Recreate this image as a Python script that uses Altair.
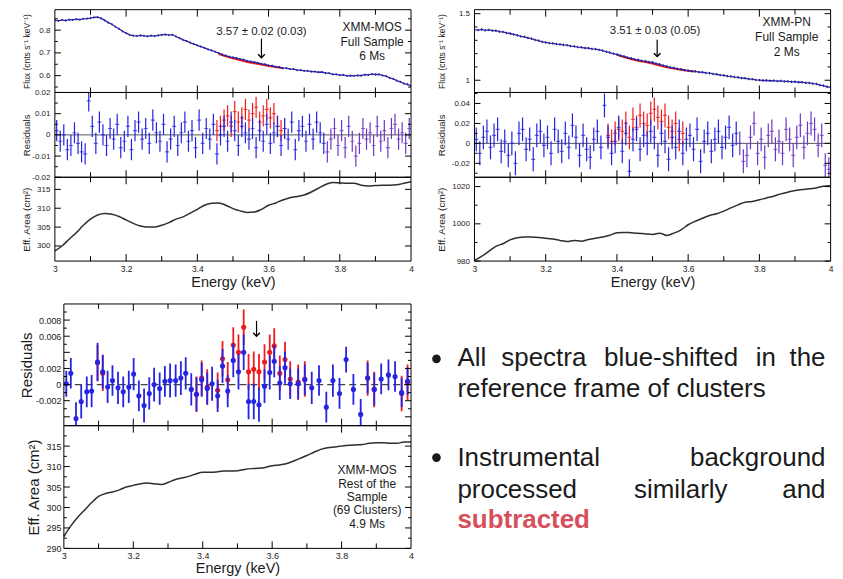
import altair as alt
import numpy as np
import pandas as pd

FONT = "Liberation Sans"
INK = "#1b1b1b"
BLUE = "#2424e2"
LINE_BLUE = "#2a22b8"
RED = "#f01a1a"
PURPLE = "#6d37c6"
TEXT_RED = "#d5505c"
MINUS = "\u2212"

# ---------------- data ----------------
E_FLUX = [round(3.0 + 0.01 * i, 2) for i in range(101)]   # flux bins (keV)
E_RES = [round(3.005 + 0.01 * i, 3) for i in range(100)]  # residual bins (keV)
E_EFF = [round(3.0 + 0.02 * i, 2) for i in range(51)]     # eff. area samples (keV)
X_TICKS_MAJOR = [3.2, 3.4, 3.6, 3.8]
X_TICKS_MINOR = [3.1, 3.3, 3.5, 3.7, 3.9]
X_LABELS = [3.0, 3.2, 3.4, 3.6, 3.8, 4.0]

MOS_FLUX = [
    0.843, 0.841, 0.845, 0.842, 0.846, 0.845, 0.848, 0.846, 0.850, 0.851,
    0.853, 0.856, 0.857, 0.852, 0.843, 0.833, 0.826, 0.815, 0.806, 0.795,
    0.787, 0.779, 0.776, 0.774, 0.777, 0.775, 0.773, 0.776, 0.774, 0.777,
    0.779, 0.781, 0.778, 0.780, 0.772, 0.765, 0.757, 0.752, 0.745, 0.739,
    0.733, 0.728, 0.722, 0.716, 0.711, 0.705, 0.699, 0.693, 0.688, 0.683,
    0.680, 0.677, 0.673, 0.670, 0.665, 0.662, 0.659, 0.656, 0.652, 0.650,
    0.645, 0.644, 0.639, 0.638, 0.633, 0.633, 0.629, 0.629, 0.624, 0.624,
    0.621, 0.621, 0.618, 0.618, 0.615, 0.616, 0.611, 0.611, 0.606, 0.606,
    0.602, 0.603, 0.599, 0.600, 0.599, 0.601, 0.600, 0.604, 0.603, 0.607,
    0.605, 0.606, 0.601, 0.598, 0.590, 0.586, 0.578, 0.573, 0.565, 0.562,
    0.556]
MOS_MODEL_E = [3.46, 3.48, 3.50, 3.52, 3.54, 3.56, 3.58, 3.60, 3.62, 3.64]
MOS_MODEL = [0.695, 0.685, 0.676, 0.668, 0.660, 0.654, 0.648, 0.642, 0.637, 0.632]
MOS_FLUX_ERR = 0.0045

PN_FLUX = [
    1.380, 1.377, 1.382, 1.375, 1.378, 1.373, 1.372, 1.365, 1.363, 1.355,
    1.351, 1.344, 1.338, 1.330, 1.326, 1.318, 1.312, 1.303, 1.297, 1.288,
    1.284, 1.279, 1.277, 1.272, 1.270, 1.265, 1.263, 1.257, 1.255, 1.249,
    1.247, 1.242, 1.241, 1.235, 1.234, 1.228, 1.223, 1.214, 1.208, 1.199,
    1.194, 1.185, 1.179, 1.170, 1.165, 1.156, 1.153, 1.146, 1.144, 1.137,
    1.134, 1.125, 1.120, 1.110, 1.105, 1.096, 1.093, 1.086, 1.083, 1.076,
    1.073, 1.068, 1.067, 1.061, 1.060, 1.055, 1.053, 1.047, 1.045, 1.039,
    1.037, 1.031, 1.029, 1.024, 1.022, 1.016, 1.015, 1.009, 1.008, 1.002,
    1.001, 0.998, 0.999, 0.996, 0.997, 0.994, 0.995, 0.991, 0.992, 0.988,
    0.989, 0.985, 0.985, 0.980, 0.980, 0.975, 0.972, 0.964, 0.959, 0.951,
    0.947]
PN_MODEL_E = [3.40, 3.42, 3.44, 3.46, 3.48, 3.50, 3.52, 3.54, 3.56, 3.58, 3.60, 3.62]
PN_MODEL = [1.190, 1.174, 1.159, 1.146, 1.136, 1.124, 1.110, 1.097, 1.087, 1.078, 1.070, 1.065]
PN_FLUX_ERR = 0.009

MOS_RES = [
    0.002, -0.003, 0.000, -0.007, -0.005, 0.001, -0.004, -0.008, -0.009, 0.016,
    0.004, -0.004, 0.006, 0.000, -0.005, 0.003, -0.002, 0.005, -0.006, -0.003,
    0.004, -0.007, 0.002, 0.006, -0.002, 0.003, -0.004, 0.007, 0.001, -0.003,
    0.005, -0.008, -0.002, 0.004, -0.005, 0.001, 0.006, -0.003, 0.002, -0.006,
    0.007, -0.004, 0.003, -0.002, 0.005, -0.009, 0.000, 0.004, -0.003, 0.006,
    0.002, -0.005, 0.004, 0.001, -0.002, 0.003, -0.006, 0.002, -0.003, 0.005,
    -0.004, 0.001, 0.004, -0.005, 0.003, -0.002, 0.006, -0.007, 0.002, 0.004,
    -0.003, 0.005, -0.002, 0.006, 0.001, -0.004, -0.008, -0.002, 0.003, -0.005,
    0.002, -0.006, 0.004, -0.003, -0.010, -0.004, 0.003, -0.002, 0.001, -0.005,
    0.004, -0.003, 0.002, -0.006, 0.003, 0.005, -0.002, 0.001, -0.004, 0.003]
MOS_RED_START = 45
MOS_RES_RED = [0.002, 0.004, 0.007, 0.009, 0.004, 0.011, 0.006, 0.008, 0.012, 0.007,
               0.010, 0.013, 0.006, 0.009, 0.012, 0.008, 0.010, 0.004, 0.002, 0.003]
MOS_RES_ERR = 0.005

PN_RES = [
    0.004, -0.010, 0.006, 0.012, -0.004, 0.008, 0.014, -0.008, 0.002, -0.012,
    0.000, -0.020, 0.010, 0.014, -0.006, 0.004, -0.016, 0.008, 0.012, -0.002,
    0.006, -0.010, 0.014, 0.002, -0.008, 0.010, -0.004, 0.018, 0.006, -0.012,
    0.008, -0.006, -0.014, 0.004, 0.012, -0.004, 0.038, 0.006, -0.010, 0.002,
    0.016, -0.008, 0.010, -0.028, 0.004, 0.014, -0.006, 0.008, 0.000, 0.012,
    0.006, -0.012, 0.010, 0.002, -0.016, 0.006, -0.004, 0.012, -0.010, 0.004,
    0.008, -0.006, 0.014, -0.018, 0.002, 0.010, -0.008, 0.004, 0.012, -0.004,
    0.006, 0.016, -0.002, 0.010, 0.000, -0.018, -0.012, 0.006, 0.020, -0.010,
    0.004, -0.014, 0.008, 0.012, -0.006, 0.002, -0.010, 0.014, 0.004, -0.012,
    0.006, 0.018, -0.004, 0.010, 0.020, 0.014, -0.002, 0.008, -0.022, -0.026]
PN_RED_START = 37
PN_RES_RED = [0.008, 0.002, 0.010, 0.014, 0.012, 0.020, 0.006, 0.024, 0.016, 0.028, 0.020,
              0.018, 0.030, 0.034, 0.026, 0.022, 0.028, 0.016, 0.012, 0.020, 0.004, 0.010]
PN_RES_ERR = 0.012

MOS_EFF = [298.7, 300.0, 301.8, 303.5, 305.5, 307.1, 308.2, 308.6, 308.4, 307.8,
           306.9, 306.0, 305.3, 305.0, 305.0, 305.5, 306.2, 307.1, 307.7, 308.7,
           309.7, 310.8, 311.3, 311.4, 310.8, 309.9, 309.3, 308.9, 309.0, 309.7,
           310.8, 311.4, 312.2, 312.8, 313.1, 313.5, 314.3, 315.3, 316.3, 316.8,
           316.7, 316.6, 316.6, 316.1, 315.9, 316.0, 316.1, 316.1, 316.2, 316.6, 317.0]
PN_EFF = [980.4, 982.5, 985.2, 987.9, 989.3, 991.4, 992.5, 992.9, 992.9, 992.7,
          992.3, 991.8, 991.1, 990.5, 991.1, 990.7, 991.6, 992.3, 992.9, 993.9,
          995.2, 995.4, 995.2, 995.0, 994.6, 994.3, 995.0, 993.8, 995.0, 996.8,
          999.5, 1001.4, 1003.0, 1004.5, 1005.4, 1006.8, 1008.6, 1010.2, 1011.6, 1012.0,
          1012.9, 1013.9, 1014.8, 1016.1, 1017.0, 1017.9, 1018.4, 1018.8, 1019.3, 1020.2, 1020.5]
REST_EFF = [292.9, 295.5, 297.6, 299.4, 301.2, 302.7, 303.4, 303.8, 304.3, 305.0,
            305.4, 305.8, 306.0, 305.8, 305.6, 306.1, 306.8, 307.2, 307.6, 308.2,
            308.6, 308.6, 308.7, 308.9, 308.9, 309.0, 309.3, 309.5, 309.6, 309.8,
            310.2, 310.4, 310.7, 311.3, 312.0, 312.7, 313.5, 314.2, 314.6, 314.8,
            315.0, 315.2, 315.3, 315.4, 315.7, 315.8, 315.8, 315.7, 315.7, 316.0, 316.0]

REST_E = [3.007, 3.020, 3.035, 3.050, 3.066, 3.080, 3.097, 3.112, 3.126, 3.140,
          3.156, 3.171, 3.187, 3.201, 3.216, 3.231, 3.246, 3.260, 3.276, 3.291,
          3.306, 3.322, 3.337, 3.351, 3.367, 3.382, 3.397, 3.413, 3.427, 3.443,
          3.457, 3.472, 3.488, 3.503, 3.518, 3.532, 3.547, 3.562, 3.578, 3.593,
          3.606, 3.622, 3.637, 3.652, 3.675, 3.694, 3.714, 3.735, 3.756, 3.775,
          3.794, 3.813, 3.834, 3.855, 3.875, 3.894, 3.914, 3.935, 3.954, 3.973, 3.990]
REST_RES = [0.0001, 0.0014, -0.0042, -0.0021, -0.0009, -0.0008, 0.0028, 0.0016, -0.0003, 0.0005,
            -0.0004, -0.0009, -0.0003, 0.0013, -0.0014, -0.0026, -0.0011, 0.0000, -0.0005, 0.0004,
            0.0005, 0.0005, 0.0008, 0.0014, -0.0006, -0.0012, 0.0006, -0.0005, 0.0001, -0.0014,
            0.0023, -0.0008, 0.0030, 0.0016, 0.0040, -0.0021, -0.0021, -0.0025, -0.0002, 0.0015,
            0.0029, 0.0002, 0.0021, 0.0001, 0.0001, 0.0006, -0.0004, 0.0005, -0.0028, 0.0005,
            -0.0011, 0.0031, -0.0006, -0.0037, 0.0008, -0.0006, 0.0007, 0.0012, 0.0010, -0.0010, 0.0004]
REST_ERR = [0.0016, 0.0019, 0.0020, 0.0021, 0.0019, 0.0020, 0.0024, 0.0021, 0.0020, 0.0019,
            0.0020, 0.0019, 0.0020, 0.0020, 0.0019, 0.0021, 0.0020, 0.0021, 0.0020, 0.0019,
            0.0021, 0.0020, 0.0021, 0.0020, 0.0020, 0.0021, 0.0021, 0.0020, 0.0021, 0.0020,
            0.0021, 0.0020, 0.0021, 0.0022, 0.0022, 0.0022, 0.0022, 0.0021, 0.0021, 0.0021,
            0.0020, 0.0021, 0.0020, 0.0019, 0.0019, 0.0019, 0.0020, 0.0019, 0.0019, 0.0020,
            0.0019, 0.0016, 0.0019, 0.0019, 0.0019, 0.0020, 0.0019, 0.0019, 0.0019, 0.0018, 0.0017]
REST_RED_E = [3.097, 3.112, 3.382, 3.397, 3.413, 3.443, 3.457, 3.472, 3.488, 3.503, 3.518, 3.532, 3.547,
              3.562, 3.578, 3.593, 3.606, 3.622, 3.637, 3.652, 3.675, 3.694, 3.875, 3.894, 3.973, 3.990]
REST_RED = [0.0027, 0.0014, -0.0012, 0.0008, -0.0003, -0.0007, 0.0032, 0.0006, 0.0049, 0.0040, 0.0071,
            0.0016, 0.0019, 0.0016, 0.0028, 0.0040, 0.0048, 0.0014, 0.0031, 0.0007, 0.0003, 0.0007,
            0.0008, -0.0006, -0.0011, 0.0003]
REST_RED_ERR = 0.0022

# ---------------- layout constants ----------------
ONE = pd.DataFrame({"k": [0]})
W = 357
BL_X0 = 9
H_FLUX, H_RES, H_EFF = 83, 85, 84
H_BRES, H_BEFF = 122, 123


def xscale(x0=0):
    return alt.Scale(domain=[3, 4], range=[x0, W], nice=False, zero=False)


def yscale(dom):
    return alt.Scale(domain=dom, nice=False, zero=False)


def y_axis(title, values, fmt, lfs, tfs, extent, tpad, lpad, offset=0):
    return alt.Axis(title=title, values=values, format=fmt, labelFontSize=lfs, titleFontSize=tfs,
                    minExtent=extent, maxExtent=extent, titlePadding=tpad, labelPadding=lpad,
                    ticks=False, tickSize=0, domain=False, grid=False, offset=offset,
                    labelOverlap=False, labelFont=FONT, titleFont=FONT, titleFontWeight="normal",
                    labelColor=INK, titleColor=INK,
                    labelExpr="replace(datum.label, '" + MINUS + "', '-')")


def x_axis(lfs, tfs, lpad, tpad):
    return alt.Axis(title="Energy (keV)", values=X_LABELS, format="~g", labelFontSize=lfs,
                    titleFontSize=tfs, labelPadding=lpad, titlePadding=tpad, ticks=False, tickSize=0,
                    domain=False, grid=False, labelFlush=False, labelOverlap=False,
                    labelFont=FONT, titleFont=FONT, titleFontWeight="normal",
                    labelColor=INK, titleColor=INK)


def enc_x(xsc, xax):
    return lambda f: alt.X(f, scale=xsc, axis=xax)


def enc_y(ysc, yax):
    return lambda f: alt.Y(f, scale=ysc, axis=yax)


def text_at(text, x, y, size, align="center", baseline="middle", color=INK, weight="normal"):
    return alt.Chart(ONE).mark_text(text=text, fontSize=size, font=FONT, color=color, align=align,
                                    baseline=baseline, fontWeight=weight).encode(
        x=alt.value(x), y=alt.value(y))


def frame(h, X, Y, ymaj, ymin, x0=0):
    layers = [alt.Chart(ONE).mark_rect(fill="white", fillOpacity=0, stroke="black", strokeWidth=1).encode(
        x=alt.value(x0), x2=alt.value(W), y=alt.value(0), y2=alt.value(h))]
    for ticks, L in ((X_TICKS_MAJOR, 7), (X_TICKS_MINOR, 5)):
        xt = pd.DataFrame({"t": ticks})
        for ya, yb in ((h, h - L), (0, L)):
            layers.append(alt.Chart(xt).mark_rule(color="black", strokeWidth=1).encode(
                x=X("t:Q"), y=alt.value(ya), y2=alt.value(yb)))
    for vals, L in ((ymaj, 6), (ymin, 3)):
        if not vals:
            continue
        yt = pd.DataFrame({"t": vals})
        for xa, xb in ((x0, x0 + L), (W, W - L)):
            layers.append(alt.Chart(yt).mark_rule(color="black", strokeWidth=1).encode(
                y=Y("t:Q"), x=alt.value(xa), x2=alt.value(xb)))
    return layers


def flux_panel(vals, err, mod_e, mod_v, dom, ymaj, ymin, yax, note, note_pos, arrow_pos,
               box, box_x, box_y):
    X = enc_x(xscale(), None)
    Y = enc_y(yscale(dom), yax)
    df = pd.DataFrame({"e": E_FLUX, "f": vals})
    df["lo"] = df["f"] - err
    df["hi"] = df["f"] + err
    dm = pd.DataFrame({"e": mod_e, "f": mod_v})
    layers = [
        alt.Chart(dm).mark_line(color=RED, strokeWidth=1.8, clip=True).encode(x=X("e:Q"), y=Y("f:Q")),
        alt.Chart(df).mark_rule(color="#000000", strokeWidth=1, clip=True).encode(
            x=X("e:Q"), y=Y("lo:Q"), y2="hi:Q"),
        alt.Chart(df).mark_line(color=LINE_BLUE, strokeWidth=1.3, clip=True).encode(x=X("e:Q"), y=Y("f:Q")),
    ]
    na = pd.DataFrame({"e": [note_pos[0]], "f": [note_pos[1]]})
    layers.append(alt.Chart(na).mark_text(text=note, fontSize=11.5, font=FONT, color=INK).encode(
        x=X("e:Q"), y=Y("f:Q")))
    ar = pd.DataFrame({"e": [arrow_pos[0]], "f1": [arrow_pos[1]], "f2": [arrow_pos[2]]})
    layers.append(alt.Chart(ar).mark_rule(color="black", strokeWidth=1.2).encode(
        x=X("e:Q"), y=Y("f1:Q"), y2="f2:Q"))
    layers.append(alt.Chart(ar).mark_point(shape="M-1,-1L0,0L1,-1", filled=False, color="black",
                                           strokeWidth=1.4, size=45, opacity=1).encode(
        x=X("e:Q"), y=Y("f2:Q")))
    for line, yy in zip(box, box_y):
        layers.append(text_at(line, box_x, yy, 12))
    layers += frame(H_FLUX, X, Y, ymaj, ymin)
    return alt.layer(*layers).properties(width=W, height=H_FLUX)


def res_panel(vals, err, red_start, red_vals, purple_from, dom, ymaj, ymin, yax):
    X = enc_x(xscale(), None)
    Y = enc_y(yscale(dom), yax)
    df = pd.DataFrame({"e": E_RES, "r": vals})
    df["lo"] = df["r"] - err
    df["hi"] = df["r"] + err
    df["c"] = np.where(df["e"] >= purple_from, "p", "b")
    dr = pd.DataFrame({"e": E_RES[red_start:red_start + len(red_vals)], "r": red_vals})
    dr["lo"] = dr["r"] - err
    dr["hi"] = dr["r"] + err
    col = alt.Color("c:N", scale=alt.Scale(domain=["b", "p"], range=[BLUE, PURPLE]), legend=None)
    layers = [
        alt.Chart(pd.DataFrame({"z": [0.0]})).mark_rule(color="#555555", strokeWidth=1).encode(
            y=Y("z:Q"), x=alt.value(0), x2=alt.value(W)),
        alt.Chart(dr).mark_rule(color=RED, strokeWidth=1.2, clip=True).encode(
            x=X("e:Q"), y=Y("lo:Q"), y2="hi:Q"),
        alt.Chart(dr).mark_tick(color=RED, orient="horizontal", size=4, thickness=1.2, clip=True).encode(
            x=X("e:Q"), y=Y("r:Q")),
        alt.Chart(df).mark_rule(strokeWidth=1.2, clip=True).encode(
            x=X("e:Q"), y=Y("lo:Q"), y2="hi:Q", color=col),
        alt.Chart(df).mark_tick(orient="horizontal", size=4, thickness=1.2, clip=True).encode(
            x=X("e:Q"), y=Y("r:Q"), color=col),
    ]
    layers += frame(H_RES, X, Y, ymaj, ymin)
    return alt.layer(*layers).properties(width=W, height=H_RES)


def eff_panel(vals, dom, ymaj, ymin, yax, xax, h, x0=0, box=None, box_x=0, box_y=None):
    X = enc_x(xscale(x0), xax)
    Y = enc_y(yscale(dom), yax)
    df = pd.DataFrame({"e": E_EFF, "a": vals})
    layers = [alt.Chart(df).mark_line(color="#2e2e2e", strokeWidth=1.5, interpolate="monotone",
                                      clip=True).encode(x=X("e:Q"), y=Y("a:Q"))]
    if box:
        for line, yy in zip(box, box_y):
            layers.append(text_at(line, box_x, yy, 12))
    layers += frame(h, X, Y, ymaj, ymin, x0)
    return alt.layer(*layers).properties(width=W, height=h)


FLUX_T = "Flux (cnts s\u207b\u00b9 keV\u207b\u00b9)"
EFF_T = "Eff. Area (cm\u00b2)"

# ---------------- top left: XMM-MOS full sample ----------------
tl_flux = flux_panel(
    MOS_FLUX, MOS_FLUX_ERR, MOS_MODEL_E, MOS_MODEL, [0.526, 0.89],
    [0.6, 0.7, 0.8], [0.55, 0.65, 0.75, 0.85],
    y_axis(FLUX_T, [0.6, 0.7, 0.8], ".1f", 8, 8.5, 19, 4, 5),
    "3.57 \u00b1 0.02 (0.03)", (3.58, 0.793), (3.58, 0.763, 0.679),
    ["XMM-MOS", "Full Sample", "6 Ms"], 318, [17, 32, 46.5])
tl_res = res_panel(
    MOS_RES, MOS_RES_ERR, MOS_RED_START, MOS_RES_RED, 3.765, [-0.02, 0.02],
    [-0.02, -0.01, 0, 0.01, 0.02], [-0.015, -0.005, 0.005, 0.015],
    y_axis("Residuals", [-0.02, -0.01, 0, 0.01, 0.02], "~g", 8, 9.5, 19, 4, 5))
tl_eff = eff_panel(
    MOS_EFF, [296, 318.2], [300, 305, 310, 315], [],
    y_axis(EFF_T, [300, 305, 310, 315], "d", 8, 10, 19, 4, 5),
    x_axis(8.5, 14.5, 3, 3), H_EFF)
tl = alt.vconcat(tl_flux, tl_res, tl_eff, spacing=0, bounds="flush")

# ---------------- top right: XMM-PN full sample ----------------
tr_flux = flux_panel(
    PN_FLUX, PN_FLUX_ERR, PN_MODEL_E, PN_MODEL, [0.908, 1.53],
    [1.0, 1.5], [1.1, 1.2, 1.3, 1.4],
    y_axis(FLUX_T, [1.0, 1.5], "~g", 8, 8.5, 24, 4, 5),
    "3.51 \u00b1 0.03 (0.05)", (3.507, 1.373), (3.513, 1.305, 1.178),
    ["XMM-PN", "Full Sample", "2 Ms"], 313, [12, 27, 42])
tr_res = res_panel(
    PN_RES, PN_RES_ERR, PN_RED_START, PN_RES_RED, 3.745, [-0.034, 0.051],
    [-0.02, 0, 0.02, 0.04], [-0.03, -0.01, 0.01, 0.03, 0.05],
    y_axis("Residuals", [-0.02, 0, 0.02, 0.04], "~g", 8, 9.5, 24, 4, 5))
tr_eff = eff_panel(
    PN_EFF, [980, 1025], [980, 1000, 1020], [990, 1010],
    y_axis(EFF_T, [980, 1000, 1020], "d", 8, 10, 24, 4, 5),
    x_axis(8.5, 14.5, 3, 3), H_EFF)
tr = alt.vconcat(tr_flux, tr_res, tr_eff, spacing=0, bounds="flush")

# ---------------- bottom left: rest of the sample ----------------
bl_res_axis = y_axis("Residuals", [-0.002, 0, 0.002, 0.006, 0.008], "~g", 9, 15, 25, 4, 3,
                     offset=-BL_X0)
BX = enc_x(xscale(BL_X0), None)
BY = enc_y(yscale([-0.0051, 0.0100]), bl_res_axis)
d_rest = pd.DataFrame({"e": REST_E, "r": REST_RES, "err": REST_ERR})
d_rest["lo"] = d_rest["r"] - d_rest["err"]
d_rest["hi"] = d_rest["r"] + d_rest["err"]
d_red = pd.DataFrame({"e": REST_RED_E, "r": REST_RED})
d_red["lo"] = d_red["r"] - REST_RED_ERR
d_red["hi"] = d_red["r"] + REST_RED_ERR
b_arrow = pd.DataFrame({"e": [3.555], "f1": [0.0079], "f2": [0.0060]})
bl_res_layers = [
    alt.Chart(pd.DataFrame({"z": [0.0]})).mark_rule(color="#444444", strokeWidth=1.3,
                                                    strokeDash=[7, 4]).encode(
        y=BY("z:Q"), x=alt.value(BL_X0), x2=alt.value(W)),
    alt.Chart(d_red).mark_rule(color=RED, strokeWidth=1.8, clip=True).encode(
        x=BX("e:Q"), y=BY("lo:Q"), y2="hi:Q"),
    alt.Chart(d_red).mark_circle(color=RED, size=26, opacity=1, clip=True).encode(
        x=BX("e:Q"), y=BY("r:Q")),
    alt.Chart(d_rest).mark_rule(color=BLUE, strokeWidth=1.8, clip=True).encode(
        x=BX("e:Q"), y=BY("lo:Q"), y2="hi:Q"),
    alt.Chart(d_rest).mark_circle(color=BLUE, size=26, opacity=1, clip=True).encode(
        x=BX("e:Q"), y=BY("r:Q")),
    alt.Chart(b_arrow).mark_rule(color="black", strokeWidth=1.2).encode(
        x=BX("e:Q"), y=BY("f1:Q"), y2="f2:Q"),
    alt.Chart(b_arrow).mark_point(shape="M-1,-1L0,0L1,-1", filled=False, color="black",
                                  strokeWidth=1.4, size=45, opacity=1).encode(
        x=BX("e:Q"), y=BY("f2:Q")),
]
bl_res_layers += frame(H_BRES, BX, BY,
                       [-0.004, -0.002, 0, 0.002, 0.004, 0.006, 0.008],
                       [-0.003, -0.001, 0.001, 0.003, 0.005, 0.007, 0.009], BL_X0)
bl_res = alt.layer(*bl_res_layers).properties(width=W, height=H_BRES)

bl_eff = eff_panel(
    REST_EFF, [290, 320], [290, 295, 300, 305, 310, 315], [292.5, 297.5, 302.5, 307.5, 312.5, 317.5],
    y_axis(EFF_T, [290, 295, 300, 305, 310, 315], "d", 9, 15, 20, 2, 3, offset=-BL_X0),
    x_axis(9, 14.5, 3, 1), H_BEFF, x0=BL_X0,
    box=["XMM-MOS", "Rest of the", "Sample", "(69 Clusters)", "4.9 Ms"], box_x=313,
    box_y=[44, 58, 71.5, 85, 99])
bl = alt.vconcat(bl_res, bl_eff, spacing=0, bounds="flush")

# ---------------- bullet text ----------------
TS = 26
text_layers = [
    alt.Chart(ONE).mark_circle(color=INK, size=75, opacity=1).encode(x=alt.value(7), y=alt.value(55)),
    alt.Chart(ONE).mark_circle(color=INK, size=75, opacity=1).encode(x=alt.value(7), y=alt.value(154)),
    text_at("All", 28, 62, TS, "left", "alphabetic"),
    text_at("spectra", 72, 62, TS, "left", "alphabetic"),
    text_at("blue-shifted", 175, 62, TS, "left", "alphabetic"),
    text_at("in", 327, 62, TS, "left", "alphabetic"),
    text_at("the", 397, 62, TS, "right", "alphabetic"),
    text_at("reference frame of clusters", 28, 93, TS, "left", "alphabetic"),
    text_at("Instrumental", 28, 162, TS, "left", "alphabetic"),
    text_at("background", 397, 162, TS, "right", "alphabetic"),
    text_at("processed", 28, 194, TS, "left", "alphabetic"),
    text_at("similarly", 205, 194, TS, "left", "alphabetic"),
    text_at("and", 397, 194, TS, "right", "alphabetic"),
    text_at("subtracted", 28, 225, TS, "left", "alphabetic", color=TEXT_RED, weight="bold"),
]
text_block = alt.layer(*text_layers).properties(width=400, height=245)

top = alt.hconcat(tl, tr, spacing=22.6)
bottom = alt.hconcat(bl, text_block, spacing=15.5)
chart = (alt.vconcat(top, bottom, spacing=14)
         .properties(padding={"left": 12, "top": 0, "right": 2, "bottom": 0})
         .configure(font=FONT, background="white")
         .configure_view(strokeWidth=0, stroke="white"))

chart.save("out.html", embed_options={"renderer": "svg", "actions": False})
